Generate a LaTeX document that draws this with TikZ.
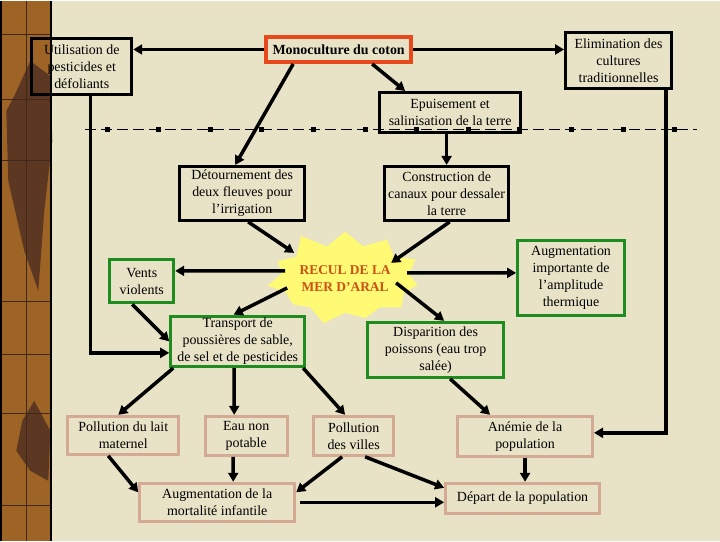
\documentclass[tikz,border=0pt]{standalone}
\usepackage{fontspec}
\setmainfont{Liberation Serif}
\usetikzlibrary{arrows.meta,positioning,calc,shapes.symbols}
\definecolor{bgbeige}{RGB}{232,226,198}
\definecolor{stripbrown}{RGB}{158,100,38}
\definecolor{stripdark}{RGB}{92,56,34}
\definecolor{red2}{RGB}{232,72,28}
\definecolor{green2}{RGB}{30,140,30}
\definecolor{pink2}{RGB}{212,170,148}
\definecolor{staryellow}{RGB}{255,250,115}
\definecolor{reculred}{RGB}{205,80,20}
\tikzset{
  boxtext/.style={align=center, inner sep=2bp, font=\fontsize{14}{17}\selectfont},
  blackbox/.style={boxtext, draw=black, line width=3bp},
  redbox/.style={boxtext, draw=red2, line width=4bp, font=\bfseries\fontsize{14}{17}\selectfont},
  greenbox/.style={boxtext, draw=green2, line width=3bp},
  pinkbox/.style={boxtext, draw=pink2, line width=3bp},
  burst/.style={starburst, starburst points=11, starburst point height=18bp,
    random starburst=11, fill=staryellow, draw=none, inner xsep=0bp, inner ysep=11bp,
    align=center, text=reculred, font=\bfseries\fontsize{13.5}{17}\selectfont},
  flow/.style={-{Triangle[length=9bp,width=10bp]}, line width=3.5bp},
  dashline/.style={line width=1bp, dash pattern=on 11bp off 5bp}
}
\begin{document}
\begin{tikzpicture}[x=1bp, y=-1bp]
\fill[bgbeige] (0,0) rectangle (720,540);
% left border strip
\fill[stripbrown] (0,0) rectangle (52,540);
\fill[stripdark] (30,60) -- (50,75) -- (52,140) -- (44,210) -- (38,290) -- (24,250) -- (8,180) -- (6,110) -- (14,95) -- cycle;
\fill[stripdark] (34,400) -- (50,430) -- (48,480) -- (30,470) -- (16,450) -- (22,420) -- cycle;
\draw[stripdark!70!black, line width=0.6bp] (26,0) -- (26,540);
\foreach \y in {33,98,159,300,353,412,505}
  \draw[stripdark!70!black, line width=0.6bp] (0,\y) -- (52,\y);
\draw[line width=2bp] (1,0) -- (1,540) (51,0) -- (51,540);
% dashed separator
\draw[dashline] (85,129) -- (697,129);
\foreach \i in {0,...,11}
  \fill ({104.5+51.6*\i},126.5) rectangle +(5,5);

\node[blackbox, minimum width=100bp, minimum height=56bp] (util) at (81.5,65.5) {Utilisation de\\pesticides et\\défoliants};
\node[redbox, minimum width=145bp, minimum height=25bp] (mono) at (338.5,48.5) {Monoculture du coton};
\node[blackbox, minimum width=106bp, minimum height=56bp] (elim) at (618.5,59.5) {Elimination des\\cultures\\traditionnelles};
\node[blackbox, minimum width=141bp, minimum height=40bp] (epuis) at (450,111.5) {Epuisement et\\salinisation de la terre};
\node[blackbox, minimum width=125bp, minimum height=54bp] (detour) at (242,192.5) {Détournement des\\deux fleuves pour\\l’irrigation};
\node[blackbox, minimum width=124bp, minimum height=54bp] (constr) at (446.5,192.5) {Construction de\\canaux pour dessaler\\la terre};
\node[burst] (recul) at (345,278) {RECUL DE LA\\MER D’ARAL};
\node[greenbox, minimum width=64bp, minimum height=43bp] (vents) at (141.5,280.5) {Vents\\violents};
\node[greenbox, minimum width=107bp, minimum height=75bp] (augm) at (571,277) {Augmentation\\importante de\\l’amplitude\\thermique};
\node[greenbox, minimum width=134bp, minimum height=49bp] (transp) at (237.5,340.5) {Transport de\\poussières de sable,\\de sel et de pesticides};
\node[greenbox, minimum width=136bp, minimum height=55bp] (dispar) at (435.5,349) {Disparition des\\poissons (eau trop\\salée)};
\node[pinkbox, minimum width=111bp, minimum height=38bp] (lait) at (123,434.5) {Pollution du lait\\maternel};
\node[pinkbox, minimum width=82bp, minimum height=39bp] (eau) at (246,435) {Eau non\\potable};
\node[pinkbox, minimum width=80bp, minimum height=39bp] (villes) at (353.5,435) {Pollution\\des villes};
\node[pinkbox, minimum width=135bp, minimum height=40bp] (anemie) at (525,435.5) {Anémie de la\\population};
\node[pinkbox, minimum width=155bp, minimum height=38bp] (mort) at (217,501.5) {Augmentation de la\\mortalité infantile};
\node[pinkbox, minimum width=154bp, minimum height=30bp] (depart) at (522.5,497.5) {Départ de la population};

\draw[flow] (mono.west) -- (mono.west -| util.east);
\draw[flow] (mono.east) -- (mono.east -| elim.west);
\draw[flow] ([xshift=33.5bp]mono.south) -- ([xshift=-45bp]epuis.north);
\draw[flow] ([xshift=-45.5bp]mono.south) -- ([xshift=-7bp]detour.north);
\draw[flow] (epuis.south -| constr.north) -- (constr.north);
\draw[flow] ([xshift=6bp]detour.south) -- ([xshift=-51bp,yshift=26bp]recul.center);
\draw[flow] ([xshift=3bp]constr.south) -- ([xshift=46bp,yshift=16bp]recul.center);
\draw[flow] ([xshift=-60bp,yshift=8bp]recul.center) -- ([yshift=10.5bp]vents.east);
\draw[flow] ([xshift=62bp,yshift=6bp]recul.center) -- ([yshift=5bp]augm.west);
\draw[flow] ([xshift=-58bp,yshift=-9bp]recul.center) -- ([xshift=-4bp]transp.north);
\draw[flow] ([xshift=51bp,yshift=-4bp]recul.center) -- ([xshift=8.5bp]dispar.north);
\draw[flow] ([xshift=-9.5bp]vents.south) -- (transp.west);
\draw[flow] ([xshift=8.5bp]util.south) |- ([yshift=-11.5bp]transp.west);
\draw[flow] ([xshift=47.5bp]elim.south) |- ([yshift=3.5bp]anemie.east);
\draw[flow] ([xshift=4bp]transp.south west) -- ([xshift=-5bp]lait.north);
\draw[flow] ([xshift=-3.5bp]transp.south) -- ([xshift=-12bp]eau.north);
\draw[flow] ([xshift=-3bp]transp.south east) -- ([xshift=-8.5bp]villes.north);
\draw[flow] ([xshift=14.5bp]dispar.south) -- ([xshift=-35bp]anemie.north);
\draw[flow] ([xshift=-15bp]lait.south) -- ([yshift=10bp]mort.west);
\draw[flow] ([xshift=-13bp]eau.south) -- ([xshift=16bp]mort.north);
\draw[flow] ([xshift=-11.5bp]villes.south) -- ([yshift=10bp]mort.east);
\draw[flow] ([xshift=11.5bp]villes.south) -- ([yshift=10.5bp]depart.west);
\draw[flow] (anemie.south) -- (anemie.south |- depart.north);
\draw[flow] ([xshift=4bp]mort.east) -- (mort.east -| depart.west);
\end{tikzpicture}
\end{document}
